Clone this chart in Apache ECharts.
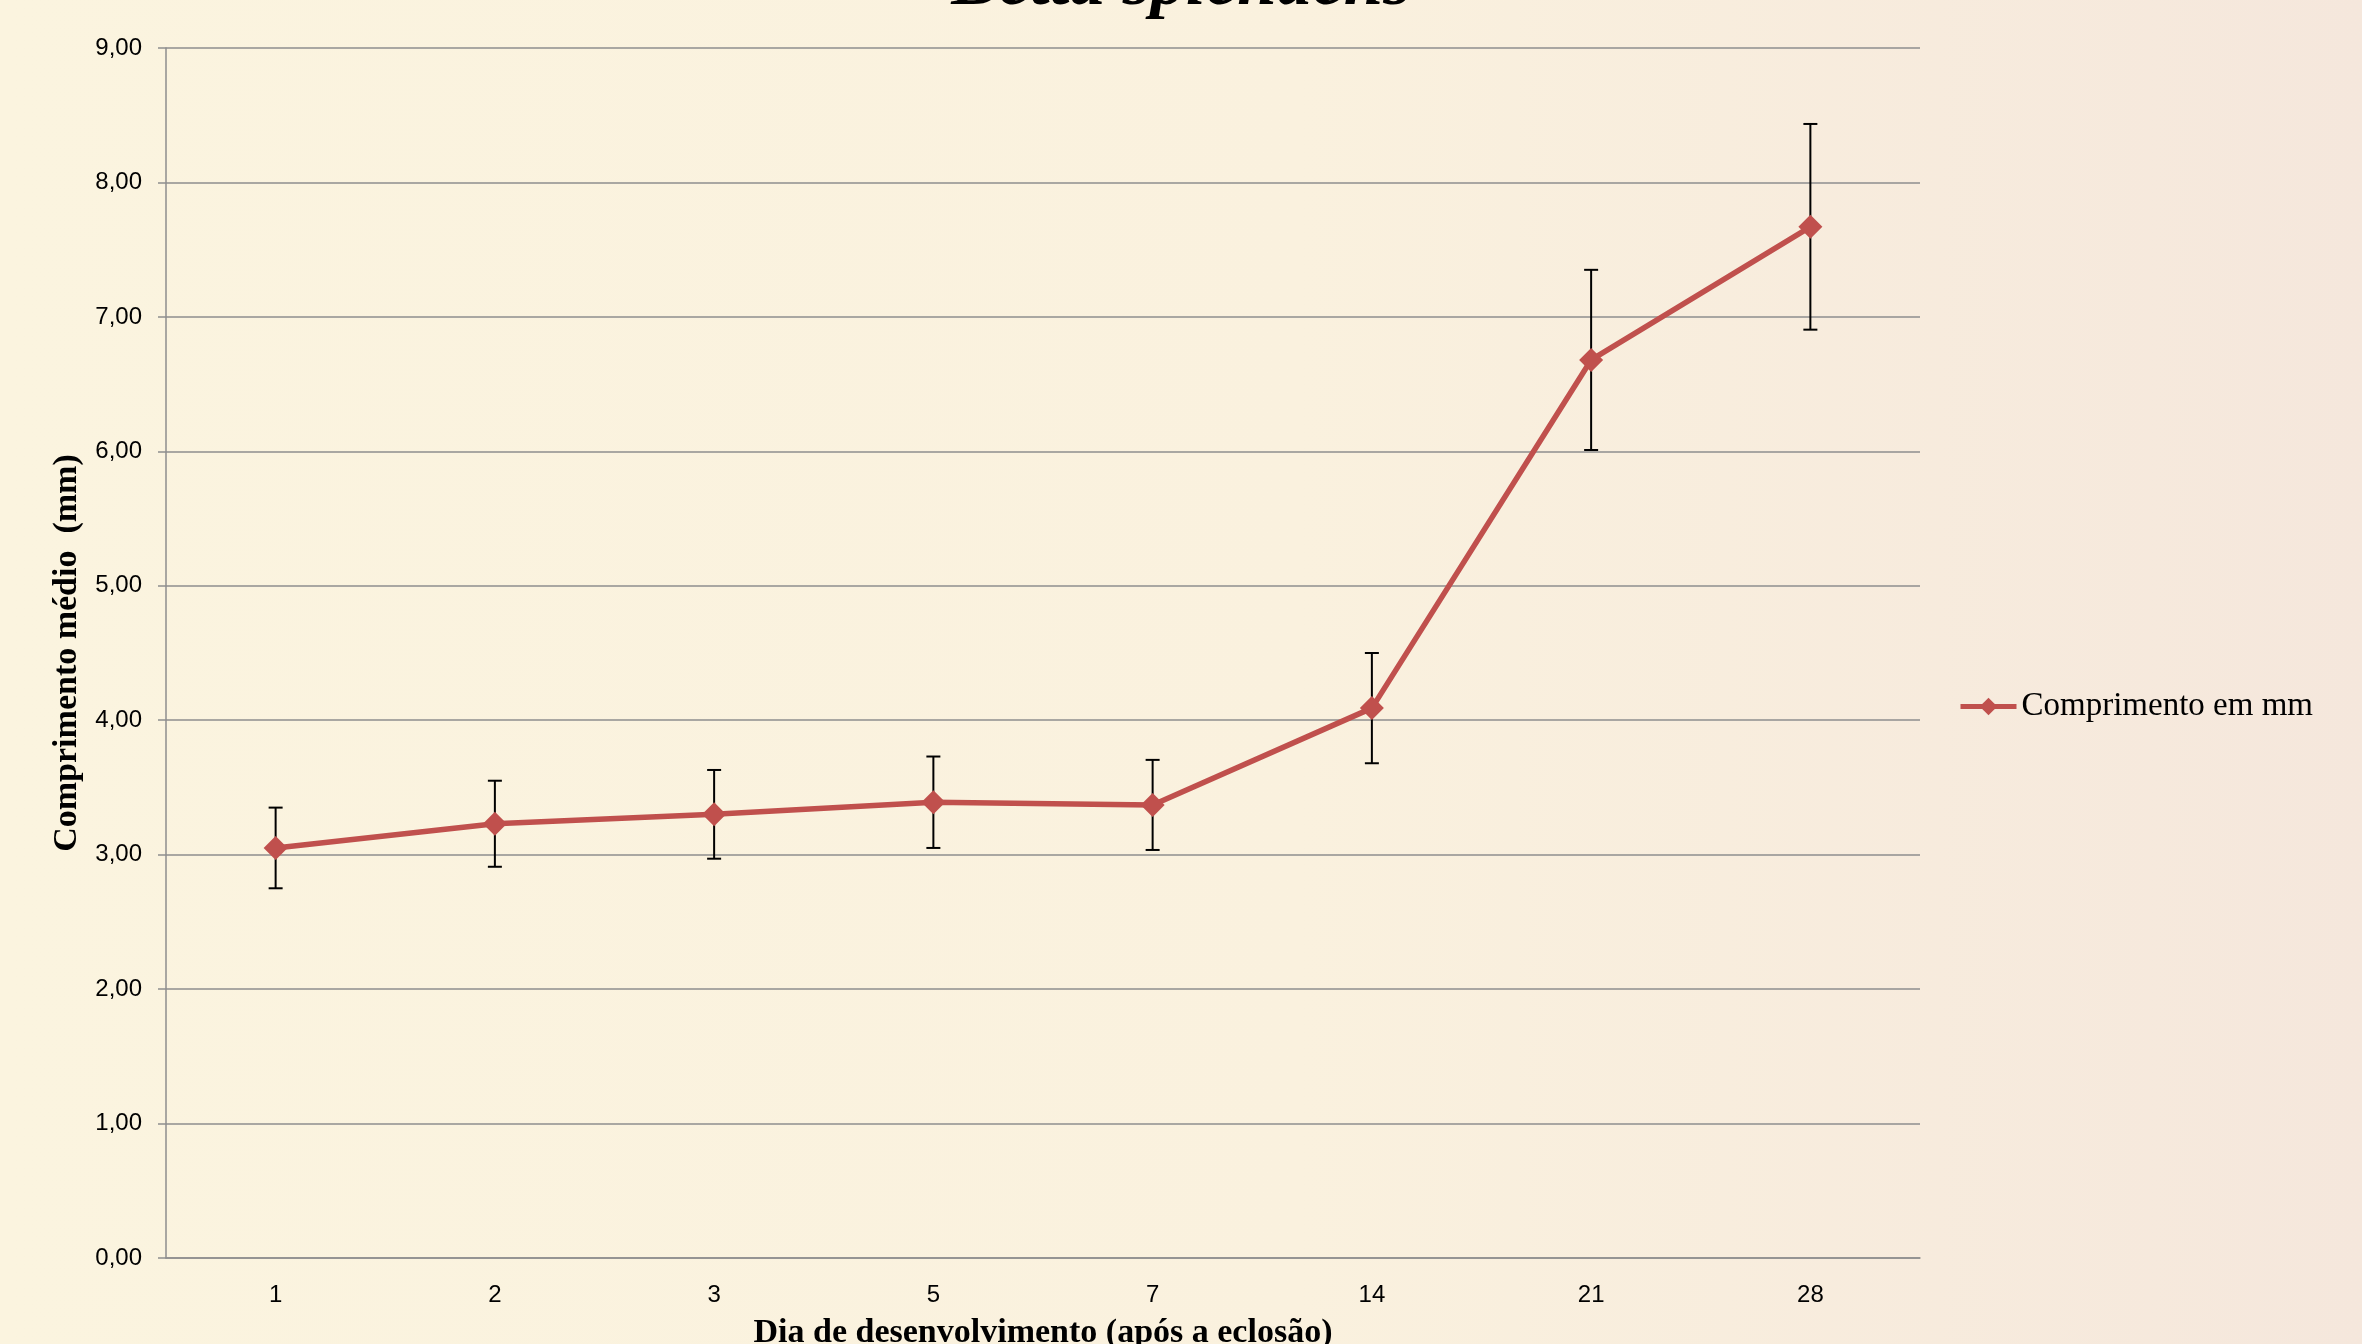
<!DOCTYPE html>
<html>
<head>
<meta charset="utf-8">
<title>Betta splendens</title>
<script src="https://cdn.jsdelivr.net/npm/echarts@6/dist/echarts.min.js"></script>
<style>
    html, body { margin: 0; padding: 0; }
    #grafico { width: 2362px; height: 1344px; }
</style>
</head>
<body>
<div id="grafico"></div>
<script>
// dias de desenvolvimento (eixo X)
var dias = ['1', '2', '3', '5', '7', '14', '21', '28'];
// comprimento médio em mm
var media = [3.05, 3.23, 3.30, 3.39, 3.37, 4.09, 6.68, 7.67];
// desvio (barra de erro, +/-)
var desvio = [0.30, 0.32, 0.33, 0.34, 0.335, 0.41, 0.67, 0.765];

var barrasErro = [];
for (var i = 0; i < dias.length; i++) {
    barrasErro.push([i, media[i] - desvio[i], media[i] + desvio[i]]);
}

var grafico = echarts.init(document.getElementById('grafico'));

var option = {
    animation: false,
    backgroundColor: {
        type: 'linear', x: 0, y: 0, x2: 1, y2: 0,
        colorStops: [
            {offset: 0, color: '#FBF4DF'},
            {offset: 0.55, color: '#FAF1DE'},
            {offset: 1, color: '#F5E7DC'}
        ]
    },
    title: {
        text: 'Betta splendens',
        left: 'center',
        top: -50,
        padding: 0,
        textStyle: {
            fontFamily: 'Liberation Serif',
            fontStyle: 'italic',
            fontWeight: 'bold',
            fontSize: 71,
            color: '#000'
        }
    },
    legend: {
        data: ['Comprimento em mm'],
        orient: 'vertical',
        left: 1953,
        top: 685,
        itemWidth: 56,
        itemHeight: 22,
        lineStyle: {width: 5},
        textStyle: {
            fontFamily: 'Liberation Serif',
            fontSize: 33,
            color: '#000'
        }
    },
    grid: {
        left: 166,
        right: 442,
        top: 48,
        bottom: 86,
        outerBoundsMode: 'none'
    },
    xAxis: {
        type: 'category',
        data: dias,
        name: 'Dia de desenvolvimento (após a eclosão)',
        nameLocation: 'middle',
        nameGap: 58,
        nameTextStyle: {
            fontFamily: 'Liberation Serif',
            fontWeight: 'bold',
            fontSize: 34,
            color: '#000'
        },
        axisLine: {lineStyle: {color: '#8E8E8E', width: 1.5}},
        axisTick: {show: false},
        axisLabel: {
            margin: 25,
            fontFamily: 'Liberation Sans',
            fontSize: 24,
            color: '#000'
        }
    },
    yAxis: {
        type: 'value',
        min: 0,
        max: 9,
        interval: 1,
        name: 'Comprimento médio  (mm)',
        nameLocation: 'middle',
        nameGap: 75,
        nameTextStyle: {
            fontFamily: 'Liberation Serif',
            fontWeight: 'bold',
            fontSize: 34,
            color: '#000'
        },
        axisLine: {show: true, lineStyle: {color: '#8E8E8E', width: 1.5}},
        axisTick: {show: true, length: 8, lineStyle: {color: '#8E8E8E', width: 1.5}},
        splitLine: {lineStyle: {color: '#8E8E8E', width: 1.5}},
        axisLabel: {
            margin: 24,
            fontFamily: 'Liberation Sans',
            fontSize: 24,
            color: '#000',
            formatter: function (v) {
                return v.toFixed(2).replace('.', ',');
            }
        }
    },
    series: [
        {
            name: 'Erro',
            type: 'custom',
            z: 1,
            data: barrasErro,
            encode: {x: 0, y: [1, 2]},
            renderItem: function (params, api) {
                var baixo = api.coord([api.value(0), api.value(1)]);
                var alto = api.coord([api.value(0), api.value(2)]);
                var w = 7;
                var estilo = {stroke: '#000', lineWidth: 2};
                return {
                    type: 'group',
                    children: [
                        {type: 'line', shape: {x1: alto[0], y1: alto[1], x2: baixo[0], y2: baixo[1]}, style: estilo},
                        {type: 'line', shape: {x1: alto[0] - w, y1: alto[1], x2: alto[0] + w, y2: alto[1]}, style: estilo},
                        {type: 'line', shape: {x1: baixo[0] - w, y1: baixo[1], x2: baixo[0] + w, y2: baixo[1]}, style: estilo}
                    ]
                };
            }
        },
        {
            name: 'Comprimento em mm',
            type: 'line',
            z: 3,
            data: media,
            symbol: 'diamond',
            symbolSize: 24,
            itemStyle: {color: '#C0504D'},
            lineStyle: {color: '#C0504D', width: 5.5}
        }
    ]
};

grafico.setOption(option);
</script>
</body>
</html>
